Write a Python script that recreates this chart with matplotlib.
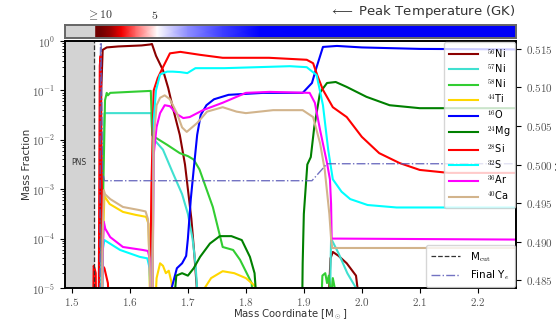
import numpy as np
import matplotlib
matplotlib.use('Agg')
import matplotlib.pyplot as plt
from matplotlib.colors import LinearSegmentedColormap, Normalize
from matplotlib.ticker import FuncFormatter

plt.rcParams['mathtext.fontset'] = 'cm'
plt.rcParams['font.family'] = ['DejaVu Sans']

# mass cut / PNS edge
m_cut = 1.538
x_lo, x_hi = 1.488, 2.266

# peak temperature (GK) along mass coordinate
temp_mass = [1.538, 1.55, 1.566, 1.586, 1.61, 1.647, 1.70, 1.76, 1.824, 1.90, 2.00, 2.10, 2.27]
temp_vals = [12.0, 10.0, 9.0, 7.4, 6.3, 5.0, 3.9, 3.1, 2.5, 2.1, 1.8, 1.6, 1.3]
temp_tick_mass = [1.548, 1.643]
temp_tick_labels = [r'$\geq 10$', r'$5$']

# log10 mass fractions (values below -5 are off the plot)
ni56_m = [1.538, 1.548, 1.5505, 1.553, 1.56, 1.58, 1.60, 1.62, 1.635, 1.638, 1.645, 1.657, 1.666,
          1.674, 1.686, 1.695, 1.70, 1.706, 1.711, 1.716, 1.72, 1.94, 1.946, 1.95, 1.96, 1.974, 1.99, 2.003, 2.27]
ni56_v = [-6, -6, -1.0, -0.18, -0.13, -0.11, -0.10, -0.09, -0.07, -0.06, -0.3, -0.59, -0.95,
          -1.35, -1.9, -2.5, -3.0, -3.6, -4.3, -5.1, -6, -6, -4.4, -4.27, -4.35, -4.5, -4.75, -6, -6]

ni57_m = [1.538, 1.549, 1.552, 1.556, 1.58, 1.62, 1.637, 1.6385, 1.642, 1.657, 1.674, 1.69, 1.70,
          1.708, 1.713, 1.717, 1.72, 1.944, 1.947, 1.96, 1.975, 1.995, 2.0, 2.27]
ni57_v = [-6, -6, -3.0, -1.46, -1.46, -1.46, -1.46, -1.9, -2.0, -2.2, -2.67, -3.1, -3.5,
          -4.0, -4.5, -5.2, -6, -6, -4.0, -4.3, -4.7, -5.1, -6, -6]

ni58_m = [1.538, 1.551, 1.554, 1.557, 1.560, 1.562, 1.566, 1.60, 1.636, 1.6385, 1.642, 1.664, 1.686,
          1.70, 1.71, 1.72, 1.743, 1.76, 1.778, 1.79, 1.81, 1.816, 1.928, 1.932, 1.937, 1.94,
          1.943, 1.947, 1.95, 1.955, 1.96, 2.27]
ni58_v = [-6, -6, -3.0, -1.2, -1.05, -1.1, -1.05, -1.03, -1.01, -1.9, -1.94, -2.1, -2.27,
          -2.33, -2.4, -2.6, -3.36, -4.17, -4.23, -4.43, -4.9, -6, -6, -4.75, -4.7, -4.9,
          -4.75, -5.2, -4.8, -5.1, -6, -6]

ti44_m = [1.538, 1.551, 1.5535, 1.556, 1.565, 1.588, 1.61, 1.628, 1.632, 1.636, 1.641, 1.646, 1.652,
          1.657, 1.662, 1.667, 1.672, 1.676, 1.724, 1.729, 1.74, 1.76, 1.78, 1.80, 1.815, 1.82, 2.27]
ti44_v = [-6, -6, -4.0, -3.14, -3.3, -3.46, -3.52, -3.56, -3.7, -6, -6, -4.8, -4.5,
          -4.55, -4.7, -4.65, -4.9, -6, -6, -5.0, -4.8, -4.66, -4.7, -4.8, -4.95, -6, -6]

o16_m = [1.538, 1.668, 1.672, 1.681, 1.69, 1.697, 1.70, 1.705, 1.71, 1.716, 1.722, 1.732, 1.745,
         1.77, 1.83, 1.898, 1.914, 1.922, 1.933, 1.957, 2.0, 2.1, 2.27]
o16_v = [-6, -6, -5.0, -4.6, -4.5, -4.35, -4.0, -3.2, -2.6, -1.9, -1.5, -1.3, -1.18,
         -1.09, -1.05, -1.05, -0.85, -0.53, -0.12, -0.10, -0.13, -0.16, -0.17]

mg24_m = [1.538, 1.671, 1.68, 1.69, 1.70, 1.71, 1.721, 1.738, 1.755, 1.775, 1.793, 1.807, 1.815, 1.823,
          1.8965, 1.898, 1.90, 1.906, 1.912, 1.918, 1.928, 1.94, 1.955, 1.974, 2.008, 2.048, 2.1, 2.27]
mg24_v = [-6, -6, -4.75, -4.7, -4.75, -4.6, -4.37, -4.1, -3.95, -3.95, -4.03, -4.37, -4.7, -6,
          -6, -4.5, -3.5, -2.5, -2.35, -1.74, -1.04, -0.85, -0.83, -0.93, -1.13, -1.3, -1.36, -1.36]

si28_m = [1.536, 1.5375, 1.539, 1.541, 1.542, 1.546, 1.548, 1.5495, 1.551, 1.553, 1.556, 1.562, 1.566,
          1.634, 1.637, 1.641, 1.648, 1.657, 1.669, 1.687, 1.721, 1.76, 1.84, 1.905, 1.916, 1.924,
          1.933, 1.95, 1.974, 2.0, 2.03, 2.065, 2.1, 2.15, 2.27]
si28_v = [-6, -4.55, -4.6, -4.7, -6, -6, -0.5, -0.3, -2.5, -4.55, -4.6, -4.9, -6,
          -6, -3.0, -1.0, -0.75, -0.53, -0.25, -0.22, -0.28, -0.34, -0.34, -0.38, -0.45, -0.72,
          -0.99, -1.34, -1.54, -1.94, -2.27, -2.47, -2.61, -2.67, -2.67]

s32_m = [1.538, 1.551, 1.5535, 1.556, 1.583, 1.617, 1.630, 1.634, 1.637, 1.6385, 1.641, 1.645, 1.652,
         1.664, 1.674, 1.687, 1.699, 1.713, 1.763, 1.876, 1.905, 1.922, 1.933, 1.942, 1.95, 1.965,
         1.98, 2.01, 2.06, 2.27]
s32_v = [-6, -6, -4.2, -4.03, -4.23, -4.37, -4.4, -4.6, -6, -6, -1.6, -1.0, -0.68,
         -0.62, -0.62, -0.63, -0.65, -0.55, -0.55, -0.51, -0.53, -0.69, -1.3, -2.2, -2.8, -3.05,
         -3.2, -3.32, -3.37, -3.37]

ar36_m = [1.538, 1.551, 1.553, 1.555, 1.5575, 1.566, 1.588, 1.622, 1.631, 1.634, 1.637, 1.6385, 1.641,
          1.646, 1.652, 1.66, 1.669, 1.681, 1.692, 1.703, 1.726, 1.76, 1.80, 1.841, 1.91, 1.919,
          1.928, 1.94, 1.945, 1.947, 1.948, 1.96, 2.27]
ar36_v = [-6, -6, -4.3, -3.66, -3.8, -3.97, -4.17, -4.23, -4.25, -4.4, -6, -6, -2.3,
          -1.74, -1.46, -1.3, -1.32, -1.48, -1.56, -1.54, -1.4, -1.25, -1.05, -1.03, -1.05, -1.25,
          -1.8, -2.47, -2.8, -3.3, -4.0, -4.0, -4.02]

ca40_m = [1.538, 1.551, 1.553, 1.555, 1.557, 1.566, 1.588, 1.615, 1.627, 1.631, 1.634, 1.637, 1.6385,
          1.641, 1.646, 1.652, 1.66, 1.669, 1.681, 1.69, 1.698, 1.716, 1.733, 1.76, 1.784, 1.80,
          1.847, 1.898, 1.916, 1.928, 1.936, 1.944, 1.947, 1.949, 1.96, 2.27]
ca40_v = [-6, -6, -4.0, -3.02, -3.1, -3.2, -3.36, -3.42, -3.45, -3.6, -4.5, -6, -6,
          -2.0, -1.3, -1.15, -1.1, -1.18, -1.46, -1.75, -1.84, -1.66, -1.43, -1.34, -1.43, -1.46,
          -1.4, -1.4, -1.54, -2.07, -2.6, -3.5, -4.0, -4.19, -4.19, -4.19]

# electron fraction
ye_m = [1.544, 1.548, 1.5495, 1.551, 1.553, 1.556, 1.914, 1.94, 2.27]
ye_v = [0.480, 0.480, 0.525, 0.510, 0.499, 0.4979, 0.4979, 0.5001, 0.5001]

species = [
    (r'$^{56}$Ni', ni56_m, ni56_v, '#8B0000'),
    (r'$^{57}$Ni', ni57_m, ni57_v, '#40E0D0'),
    (r'$^{58}$Ni', ni58_m, ni58_v, '#32CD32'),
    (r'$^{44}$Ti', ti44_m, ti44_v, '#FFD700'),
    (r'$^{16}$O', o16_m, o16_v, '#0000FF'),
    (r'$^{24}$Mg', mg24_m, mg24_v, '#008000'),
    (r'$^{28}$Si', si28_m, si28_v, '#FF0000'),
    (r'$^{32}$S', s32_m, s32_v, '#00FFFF'),
    (r'$^{36}$Ar', ar36_m, ar36_v, '#FF00FF'),
    (r'$^{40}$Ca', ca40_m, ca40_v, '#D2B48C'),
]

W, H = 556, 321
fig = plt.figure(figsize=(W / 100, H / 100), dpi=100)
ax = fig.add_axes([65 / W, 33 / H, 451 / W, 247 / H])
ax_cb = fig.add_axes([65 / W, (H - 38) / H, 451 / W, 13 / H])

tick_col = '#555555'

# abundances
lines = []
for label, m, v, col in species:
    ln, = ax.plot(m, 10 ** np.array(v), color=col, lw=1.5, label=label)
    lines.append(ln)

ax.axvspan(x_lo, m_cut, color='#d3d3d3', zorder=0)
mcut_line = ax.axvline(m_cut, color='#333333', ls='--', lw=0.9, label=r'M$_{\rm cut}$')
ax.text(1.512, 3.4e-3, 'PNS', fontsize=5.5, ha='center', va='center', color='#333333')

ax.set_yscale('log')
ax.set_xlim(x_lo, x_hi)
ax.set_ylim(1e-5, 1.0)
ax.set_xticks([1.5, 1.6, 1.7, 1.8, 1.9, 2.0, 2.1, 2.2])
ax.xaxis.set_major_formatter(FuncFormatter(lambda v, p: r'$%.1f$' % v))
ax.yaxis.set_major_formatter(FuncFormatter(lambda v, p: r'$10^{%d}$' % round(np.log10(v))))
ax.tick_params(labelsize=8, labelcolor=tick_col)
ax.tick_params(axis='x', pad=2)
ax.set_xlabel(r'Mass Coordinate [M$_\odot$]', fontsize=7.3, color='#333333', labelpad=0)
ax.set_ylabel('Mass Fraction', fontsize=7.5, color='#333333', labelpad=0)

# electron fraction on twin axis
ax2 = ax.twinx()
ye_line, = ax2.plot(ye_m, ye_v, color='#5a5ab8', ls='-.', lw=1.0, alpha=0.85, label=r'Final Y$_e$')
ax2.set_ylim(0.4840, 0.5160)
ax2.set_yticks([0.485, 0.490, 0.495, 0.500, 0.505, 0.510, 0.515])
ax2.yaxis.set_major_formatter(FuncFormatter(lambda v, p: r'$%.3f$' % v))
ax2.tick_params(labelsize=8, labelcolor=tick_col)
ax2.set_ylabel(r'Y$_e$', fontsize=9, color='#333333', rotation=90, labelpad=2)

for a in (ax, ax2):
    for s in a.spines.values():
        s.set_linewidth(1.2)

leg1 = ax2.legend(handles=lines, loc='upper right', fontsize=7, handlelength=3.0,
                  labelspacing=0.25, borderaxespad=0.1, handletextpad=0.9, borderpad=0.5)
ax2.add_artist(leg1)
ax2.legend(handles=[mcut_line, ye_line], loc='lower right', fontsize=7.5, handlelength=2.8,
           labelspacing=0.45, borderaxespad=0.1, handletextpad=1.0, borderpad=0.45)

# peak temperature bar
cmap = LinearSegmentedColormap.from_list('peakT', [
    (0.0, '#0000ee'), (0.25, '#0000ff'), (0.5, '#ffffff'),
    (0.72, '#ff0000'), (0.88, '#a00000'), (1.0, '#700000')])
norm = Normalize(vmin=0, vmax=10)
Xg, Yg = np.meshgrid(temp_mass, [0, 1])
Cg = np.vstack([np.clip(temp_vals, 0, 10), np.clip(temp_vals, 0, 10)])
ax_cb.pcolormesh(Xg, Yg, Cg, cmap=cmap, norm=norm, shading='gouraud')
ax_cb.axvspan(x_lo, m_cut, color='#d3d3d3')
ax_cb.set_xlim(x_lo, x_hi)
ax_cb.set_ylim(0, 1)
ax_cb.set_yticks([])
ax_cb.xaxis.tick_top()
ax_cb.set_xticks(temp_tick_mass)
ax_cb.set_xticklabels(temp_tick_labels)
ax_cb.tick_params(axis='x', length=0, pad=2, labelsize=8.5, labelcolor='#333333')
for s in ax_cb.spines.values():
    s.set_linewidth(1.4)
    s.set_color('#666666')
ax_cb.text(1.0, 1.35, r'$\longleftarrow$ Peak Temperature (GK)', transform=ax_cb.transAxes,
           ha='right', va='bottom', fontsize=9.5, color='#333333')

fig.savefig('out.png', dpi=100)
